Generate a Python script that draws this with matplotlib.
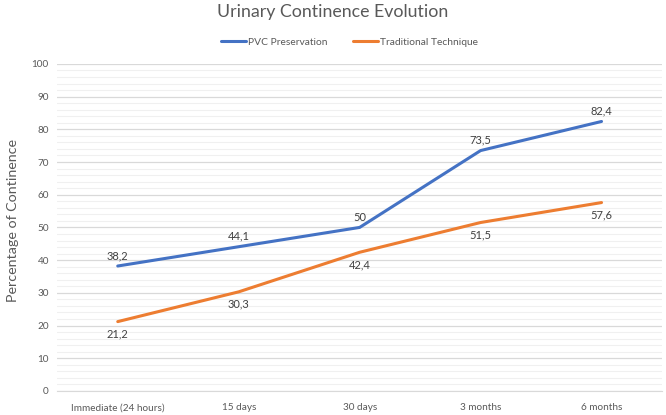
import matplotlib
matplotlib.use("Agg")
import matplotlib.pyplot as plt
from matplotlib.ticker import MultipleLocator

categories = ["Immediate (24 hours)", "15 days", "30 days", "3 months", "6 months"]
pvc = [38.2, 44.1, 50, 73.5, 82.4]
trad = [21.2, 30.3, 42.4, 51.5, 57.6]
pvc_labels = ["38,2", "44,1", "50", "73,5", "82,4"]
trad_labels = ["21,2", "30,3", "42,4", "51,5", "57,6"]

plt.rcParams['font.family'] = ['Lato', 'DejaVu Sans']
gray = "#595959"

fig = plt.figure(figsize=(6.66, 4.15), dpi=100)
ax = fig.add_axes([0.086, 0.058, 0.908, 0.788])
x = list(range(len(categories)))
ax.plot(x, pvc, color="#4472C4", lw=2.2, label="PVC Preservation", solid_capstyle="round")
ax.plot(x, trad, color="#ED7D31", lw=2.2, label="Traditional Technique", solid_capstyle="round")

for xi, v, t in zip(x, pvc, pvc_labels):
    ax.annotate(t, (xi, v), xytext=(0, 3.5), textcoords="offset points",
                ha="center", va="bottom", fontsize=8, color="#404040")
for xi, v, t in zip(x, trad, trad_labels):
    ax.annotate(t, (xi, v), xytext=(0, -5), textcoords="offset points",
                ha="center", va="top", fontsize=8, color="#404040")

ax.set_xlim(-0.5, 4.5)
ax.set_ylim(0, 100)
ax.yaxis.set_major_locator(MultipleLocator(10))
ax.yaxis.set_minor_locator(MultipleLocator(2))
ax.set_xticks(x)
ax.set_xticklabels(categories)
ax.grid(axis="y", which="major", color="#D9D9D9", lw=0.9)
ax.grid(axis="y", which="minor", color="#F0F0F0", lw=0.8)
ax.set_axisbelow(True)
for s in ["top", "right", "left"]:
    ax.spines[s].set_visible(False)
ax.spines["bottom"].set_color("#D9D9D9")
ax.tick_params(axis="both", which="both", length=0, colors=gray, labelsize=7.2)
ax.tick_params(axis="x", pad=9)
ax.tick_params(axis="y", pad=6)
ax.set_ylabel("Percentage of Continence", color=gray, fontsize=10.3)
ax.yaxis.set_label_coords(-0.064, 0.52)

fig.text(0.5, 0.97, "Urinary Continence Evolution", ha="center", va="center",
         fontsize=12.8, color=gray)
leg = fig.legend(loc="center", bbox_to_anchor=(0.525, 0.898), ncol=2, frameon=False,
                 fontsize=7.4, handlelength=2.4, columnspacing=2.5, handletextpad=0.2)
for t in leg.get_texts():
    t.set_color(gray)

fig.savefig("out.png", dpi=100)
